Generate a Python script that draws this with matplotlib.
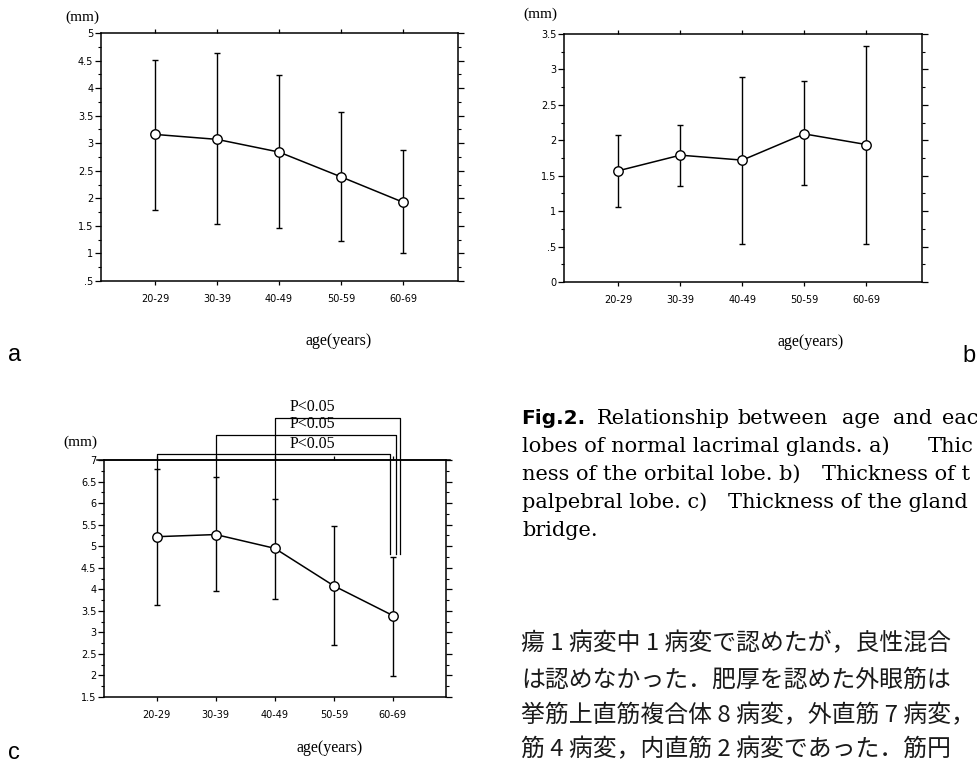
import matplotlib
matplotlib.use("Agg")
import matplotlib.pyplot as plt
import numpy as np
from matplotlib.ticker import MultipleLocator

# ---------------- data ----------------
ages = ["20-29", "30-39", "40-49", "50-59", "60-69"]

a_mean = [3.16, 3.07, 2.84, 2.39, 1.93]
a_upper = [4.51, 4.63, 4.23, 3.56, 2.87]
a_lower = [1.79, 1.53, 1.46, 1.23, 1.00]

b_mean = [1.57, 1.79, 1.72, 2.09, 1.94]
b_upper = [2.07, 2.21, 2.90, 2.84, 3.33]
b_lower = [1.06, 1.35, 0.54, 1.37, 0.54]

c_mean = [5.22, 5.27, 4.95, 4.08, 3.39]
c_upper = [6.79, 6.60, 6.10, 5.46, 4.76]
c_lower = [3.63, 3.97, 3.78, 2.71, 1.98]

a_yticks = [0.5, 1, 1.5, 2, 2.5, 3, 3.5, 4, 4.5, 5]
a_yticklabels = [".5", "1", "1.5", "2", "2.5", "3", "3.5", "4", "4.5", "5"]
b_yticks = [0, 0.5, 1, 1.5, 2, 2.5, 3, 3.5]
b_yticklabels = ["0", ".5", "1", "1.5", "2", "2.5", "3", "3.5"]
c_yticks = [1.5, 2, 2.5, 3, 3.5, 4, 4.5, 5, 5.5, 6, 6.5, 7]
c_yticklabels = ["1.5", "2", "2.5", "3", "3.5", "4", "4.5", "5", "5.5", "6", "6.5", "7"]

sig_pairs = [(0, 4), (1, 4), (2, 4)]
sig_labels = ["P<0.05", "P<0.05", "P<0.05"]

unit_label = "(mm)"
xlabel = "age(years)"

caption_lines = [
    ["Relationship", "between", "age", "and", "eac"],
    ["lobes of normal lacrimal glands. a)", "Thic"],
    ["ness of the orbital lobe. b)", "Thickness of t"],
    ["palpebral lobe. c)", "Thickness of the gland"],
    ["bridge."],
]
jp_lines = [
    "瘍 1 病変中 1 病変で認めたが，良性混合",
    "は認めなかった．肥厚を認めた外眼筋は",
    "挙筋上直筋複合体 8 病変，外直筋 7 病変，",
    "筋 4 病変，内直筋 2 病変であった．筋円",
]

# ---------------- figure ----------------
W, H = 978, 763
fig = plt.figure(figsize=(W / 100, H / 100), dpi=100)
fig.patch.set_facecolor("white")

SERIF = ["Liberation Serif", "DejaVu Serif"]
SANS = ["DejaVu Sans"]


def box(l, t, r, b):
    return [l / W, 1 - b / H, (r - l) / W, (b - t) / H]


def ftext(x, y, s, **kw):
    return fig.text(x / W, 1 - y / H, s, **kw)


def panel(rect, xlim, ylim, mean, lower, upper, yt, ytl):
    ax = fig.add_axes(rect)
    x = np.arange(1, len(ages) + 1)
    mean = np.array(mean)
    yerr = [mean - np.array(lower), np.array(upper) - mean]
    ax.errorbar(x, mean, yerr=yerr, fmt="-o", color="black", lw=1.1,
                elinewidth=1.0, capsize=2.5, capthick=1.1,
                mfc="white", mec="black", ms=6.8, mew=1.0)
    ax.set_xlim(xlim)
    ax.set_ylim(ylim)
    ax.set_xticks(x)
    ax.set_xticklabels(ages, family=SANS, fontsize=7)
    ax.set_yticks(yt)
    ax.set_yticklabels(ytl, family=SANS, fontsize=7)
    ax.yaxis.set_minor_locator(MultipleLocator(0.25))
    ax.tick_params(axis="y", which="major", direction="out", length=4,
                   width=0.9, left=True, right=True, pad=1.5)
    ax.tick_params(axis="y", which="minor", direction="out", length=2.5,
                   width=0.8, left=True, right=True)
    ax.tick_params(axis="x", which="major", direction="out", length=3,
                   width=0.9, top=True, bottom=True, pad=6)
    for sp in ax.spines.values():
        sp.set_linewidth(1.1)
    return ax


# panel a
axa = panel(box(101, 33, 458, 281), (0.13, 5.887), (0.5, 5.0),
            a_mean, a_lower, a_upper, a_yticks, a_yticklabels)
# panel b
axb = panel(box(564, 34, 922, 282), (0.123, 5.90), (0.0, 3.5),
            b_mean, b_lower, b_upper, b_yticks, b_yticklabels)
# panel c
axc = panel(box(104, 460, 446, 697), (0.107, 5.90), (1.5, 7.0),
            c_mean, c_lower, c_upper, c_yticks, c_yticklabels)
axc.plot([-0.02, 1.012], [1, 1], transform=axc.transAxes, color="black",
         lw=1.1, clip_on=False)

# significance brackets in panel c
bracket_levels = [7.13, 7.58, 7.98]
bracket_right = [4.95, 5.046, 5.12]
bracket_bottom = 4.82
for (i, j), lab, lev, xr in zip(sig_pairs, sig_labels, bracket_levels, bracket_right):
    xl = i + 1
    axc.plot([xl, xl, xr, xr], [c_upper[i], lev, lev, bracket_bottom],
             color="black", lw=0.9, clip_on=False)
    axc.text(3.64, lev + 0.25, lab, ha="center", va="center",
             family=SERIF, fontsize=11.5, clip_on=False)

# unit labels and axis titles
ftext(82, 17, unit_label, ha="center", va="center", family=SERIF, fontsize=11)
ftext(540, 14, unit_label, ha="center", va="center", family=SERIF, fontsize=11)
ftext(80, 442, unit_label, ha="center", va="center", family=SERIF, fontsize=11)

ftext(339, 341, xlabel, ha="center", va="center", family=SERIF, fontsize=11.5)
ftext(811, 342, xlabel, ha="center", va="center", family=SERIF, fontsize=11.5)
ftext(330, 748, xlabel, ha="center", va="center", family=SERIF, fontsize=11.5)

# panel letters
ftext(8, 361, "a", ha="left", va="baseline", family=["Liberation Sans"], fontsize=17)
ftext(976, 362, "b", ha="right", va="baseline", family=["Liberation Sans"], fontsize=17)
ftext(8, 759, "c", ha="left", va="baseline", family=["Liberation Sans"], fontsize=17)

# caption
CAP = ["DejaVu Serif"]
cap_fs = 15
baselines = [424, 452, 480, 508, 536]
ftext(521, baselines[0], "Fig.2.", ha="left", va="baseline",
      family=["DejaVu Sans"], fontweight="bold", fontsize=14.5)
line1_x = [597, 737, 842, 893, 942]
for word, x in zip(caption_lines[0], line1_x):
    ftext(x, baselines[0], word, ha="left", va="baseline", family=CAP, fontsize=cap_fs)
seg_x = [[522, 928], [522, 822], [522, 728], [522]]
for segs, xs, yb in zip(caption_lines[1:], seg_x, baselines[1:]):
    for s, x in zip(segs, xs):
        ftext(x, yb, s, ha="left", va="baseline", family=CAP, fontsize=cap_fs)

# Japanese body text
jp_y = [644, 680, 716, 750]
for s, y in zip(jp_lines, jp_y):
    ftext(521, y, s, ha="left", va="center",
          family=["Noto Sans CJK JP", "DejaVu Sans"], fontsize=17.2, color="#1a1a1a")

fig.savefig("out.png", dpi=100, facecolor="white")
